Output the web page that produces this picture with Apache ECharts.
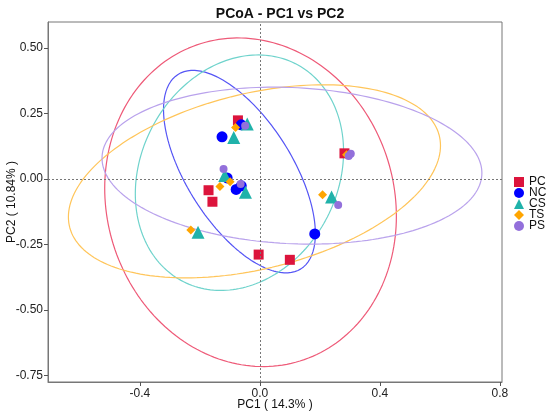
<!DOCTYPE html>
<html>
<head>
<meta charset="utf-8">
<script src="https://cdn.jsdelivr.net/npm/echarts@6/dist/echarts.min.js"></script>
<style>
  html, body { margin: 0; padding: 0; background: #fff; }
  #chart { width: 550px; height: 415px; }
</style>
</head>
<body>
<div id="chart"></div>
<script>
// groups and sample coordinates (PC1, PC2)
const groups = ['PC', 'NC', 'CS', 'TS', 'PS']
const pcX = [-0.073, -0.171, -0.158, 0.282, -0.004, 0.100]
const pcY = [0.224, -0.043, -0.087, 0.098, -0.289, -0.309]
const ncX = [-0.062, -0.126, -0.109, -0.062, -0.079, 0.183]
const ncY = [0.207, 0.161, 0.004, -0.026, -0.040, -0.210]
const csX = [-0.042, -0.087, -0.117, -0.048, 0.239, -0.206]
const csY = [0.210, 0.159, 0.013, -0.051, -0.069, -0.204]
const tsX = [-0.081, -0.099, -0.133, 0.289, 0.209, -0.230]
const tsY = [0.197, -0.011, -0.029, 0.093, -0.060, -0.195]
const psX = [-0.049, -0.121, -0.064, 0.296, 0.303, 0.261]
const psY = [0.203, 0.038, -0.019, 0.088, 0.096, -0.099]

// confidence ellipses per group: centre, half extents and xy coupling term
const ellipseCx = [-0.031, -0.068, -0.068, -0.018, 0.107]
const ellipseCy = [-0.089, 0.028, 0.024, -0.009, 0.051]
const ellipseHx = [0.486, 0.253, 0.347, 0.620, 0.633]
const ellipseHy = [0.628, 0.387, 0.450, 0.369, 0.300]
const ellipseK = [-0.026, -0.060, 0.028, 0.0845, -0.018]

const xTicks = [-0.4, 0, 0.4, 0.8]
const yTicks = [-0.75, -0.5, -0.25, 0, 0.25, 0.5]

const pointColors = ['#DC143C', '#0000FF', '#20B2AA', '#FFA500', '#9370DB']
const lineColors = ['#EE5A78', '#5555F5', '#6FD3CC', '#FFC55A', '#B9A2EC']
const symbols = ['rect', 'circle', 'triangle', 'diamond', 'circle']
const symbolSizes = [10, 11, 13, 9, 8]
const font = 'Liberation Sans, Arial, Helvetica, sans-serif'

const xs = [pcX, ncX, csX, tsX, psX]
const ys = [pcY, ncY, csY, tsY, psY]

function ellipsePath(i) {
  const hx = ellipseHx[i], hy = ellipseHy[i], k = ellipseK[i]
  const c = k / hx
  const s = Math.sqrt(hy * hy - c * c)
  const out = []
  for (let j = 0; j <= 200; j++) {
    const t = j / 200 * Math.PI * 2
    out.push([ellipseCx[i] + hx * Math.cos(t), ellipseCy[i] + c * Math.cos(t) + s * Math.sin(t)])
  }
  return out
}

const series = []
groups.forEach((g, i) => {
  series.push({
    name: g + ' ellipse',
    type: 'line',
    data: ellipsePath(i),
    showSymbol: false,
    silent: true,
    z: 1,
    lineStyle: {color: lineColors[i], width: 1.2}
  })
})
groups.forEach((g, i) => {
  series.push({
    name: g,
    type: 'scatter',
    symbol: symbols[i],
    symbolSize: symbolSizes[i],
    z: 3 + i,
    itemStyle: {color: pointColors[i], opacity: 1},
    data: xs[i].map((x, j) => [x, ys[i][j]])
  })
})
// dotted zero lines
series.push({
  type: 'line',
  data: [],
  markLine: {
    silent: true,
    symbol: 'none',
    label: {show: false},
    lineStyle: {color: '#777', type: [2, 2], width: 1},
    data: [{xAxis: 0}, {yAxis: 0}]
  }
})

const chart = echarts.init(document.getElementById('chart'))
chart.setOption({
  animation: false,
  backgroundColor: '#fff',
  title: {
    text: 'PCoA - PC1 vs PC2',
    left: 275,
    textAlign: 'center',
    top: 2,
    textStyle: {fontFamily: font, fontSize: 14, fontWeight: 'bold', color: '#111'}
  },
  grid: {
    left: 48, right: 48, top: 22, bottom: 33,
    containLabel: false,
    outerBoundsMode: 'none',
    show: true, borderColor: '#777', borderWidth: 1
  },
  legend: {
    data: groups,
    orient: 'vertical',
    left: 514,
    top: 176,
    itemWidth: 10,
    itemHeight: 10,
    itemGap: -1,
    padding: 0,
    textStyle: {fontFamily: font, fontSize: 12, color: '#111', lineHeight: 10}
  },
  xAxis: {
    type: 'value',
    min: -0.706,
    max: 0.807,
    splitLine: {show: false},
    axisLine: {show: true, onZero: false, lineStyle: {color: '#777'}},
    axisTick: {show: true, length: 4, customValues: xTicks, lineStyle: {color: '#555'}},
    axisLabel: {
      customValues: xTicks, fontFamily: font, fontSize: 12, color: '#222', margin: 6,
      formatter: v => v.toFixed(1)
    },
    name: 'PC1 ( 14.3% )',
    nameLocation: 'middle',
    nameGap: 17,
    nameMoveOverlap: false,
    nameTextStyle: {fontFamily: font, fontSize: 12, color: '#111'}
  },
  yAxis: {
    type: 'value',
    min: -0.776,
    max: 0.600,
    splitLine: {show: false},
    axisLine: {show: true, onZero: false, lineStyle: {color: '#777'}},
    axisTick: {show: true, length: 4, customValues: yTicks, lineStyle: {color: '#555'}},
    axisLabel: {
      customValues: yTicks, fontFamily: font, fontSize: 12, color: '#222', margin: 5,
      formatter: v => v.toFixed(2)
    },
    name: 'PC2 ( 10.84% )',
    nameLocation: 'middle',
    nameGap: 30,
    nameMoveOverlap: false,
    nameTextStyle: {fontFamily: font, fontSize: 12, color: '#111'}
  },
  series: series
})
</script>
</body>
</html>
